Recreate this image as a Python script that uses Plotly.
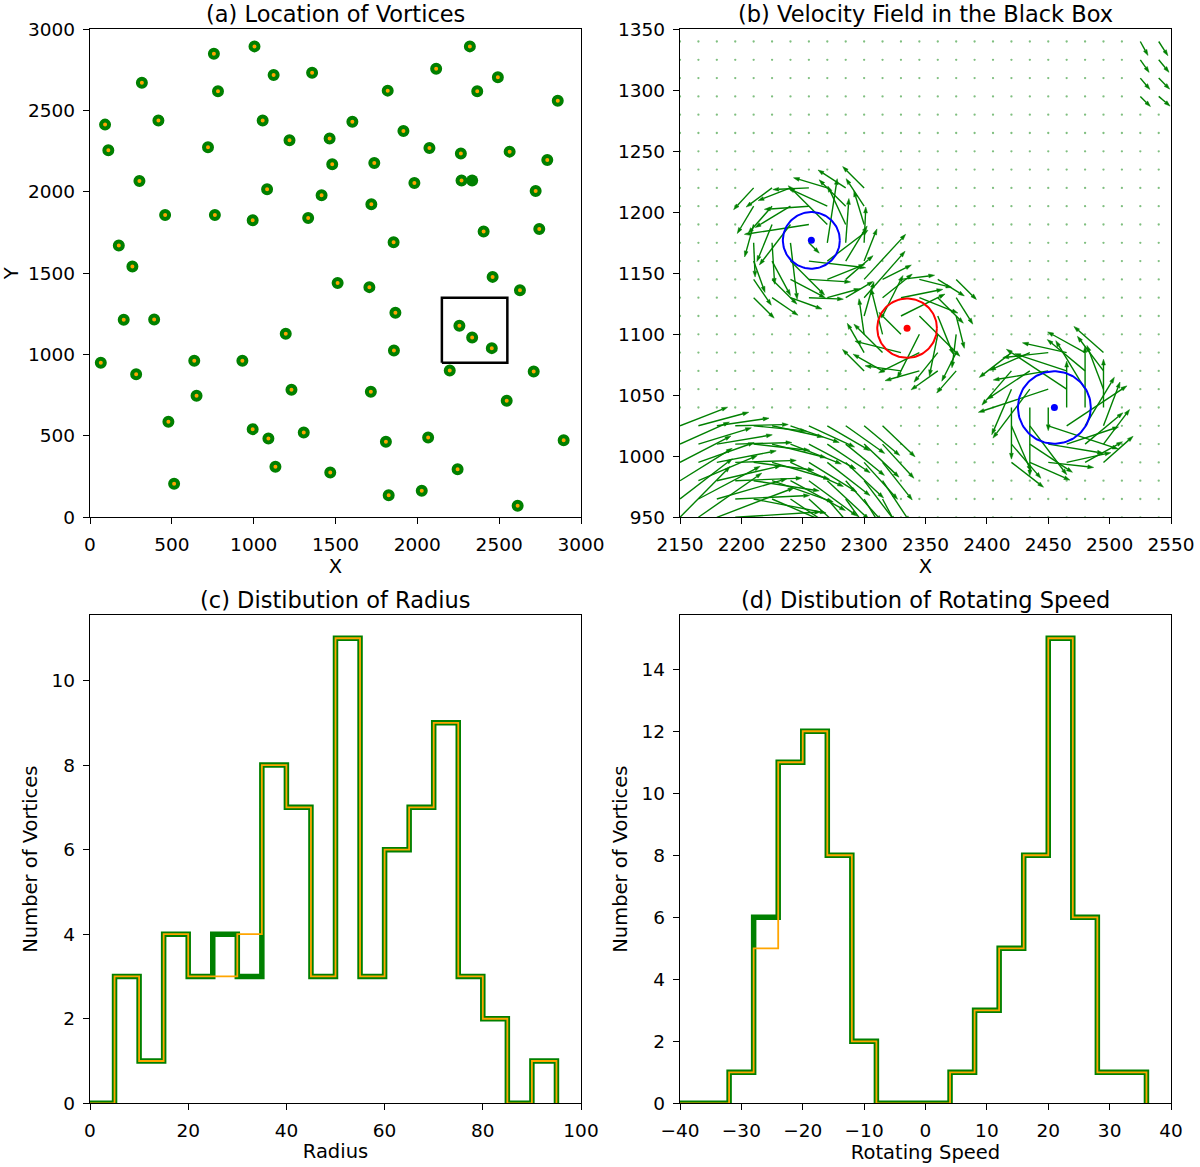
import numpy as np
import plotly.graph_objects as go

# ---- (a) vortex centres ----
vortex_x = [1005, 2321, 757, 317, 1122, 1357, 2115, 2492, 782, 1819, 2366, 2858,
            92, 418, 1055, 1603, 1915, 112, 721, 1219, 1464, 2074, 2266, 2564,
            2794, 1480, 1737, 302, 1082, 1982, 2270, 2723, 1415, 1719, 459, 763,
            994, 1333, 2405, 2745, 176, 1855, 259, 2460, 1513, 1707, 2627, 1866,
            206, 392, 2257, 2335, 1196, 2455, 1857, 66, 637, 931, 2198, 2711,
            282, 651, 1231, 1716, 479, 994, 1090, 1306, 2546, 1808, 2066, 2894,
            514, 1133, 1468, 2246, 1825, 2027, 2613]
vortex_y = [2895, 2895, 2850, 2672, 2719, 2733, 2758, 2705, 2619, 2623, 2619, 2561,
            2414, 2439, 2440, 2432, 2375, 2256, 2275, 2318, 2328, 2270, 2236, 2248,
            2197, 2170, 2178, 2068, 2017, 2055, 2070, 2006, 1980, 1924, 1859, 1859,
            1826, 1840, 1757, 1773, 1671, 1691, 1542, 1478, 1441, 1415, 1396, 1257,
            1214, 1216, 1177, 1105, 1128, 1040, 1026, 950, 962, 962, 903, 897,
            880, 747, 784, 772, 587, 542, 485, 522, 716, 464, 491, 473,
            206, 311, 276, 295, 135, 163, 71]
solid_x = [2335]
solid_y = [2070]
box_x = [2150, 2550]
box_y = [950, 1350]

# ---- (b) vortices that shape the field near the black box ----
field_x = [2198, 2257, 2335, 2455, 2627]
field_y = [903, 1177, 1105, 1040, 1396]
field_radius = [80, 23.2, 24.3, 29.7, 40]
field_speed = [-72, 54, -48, 62, 30]      # + counter-clockwise, - clockwise
field_reach = [128, 50, 45, 45, 110]
grid_step = 15

# ---- (c) radius histogram ----
radius_edges = [0, 5, 10, 15, 20, 25, 30, 35, 40, 45, 50, 55, 60, 65, 70, 75, 80, 85, 90, 95]
radius_green = [0, 3, 1, 4, 3, 4, 3, 8, 7, 3, 11, 3, 6, 7, 9, 3, 2, 0, 1]
radius_orange = [0, 3, 1, 4, 3, 3, 4, 8, 7, 3, 11, 3, 6, 7, 9, 3, 2, 0, 1]

# ---- (d) rotating speed histogram ----
speed_edges = [-40, -36, -32, -28, -24, -20, -16, -12, -8, -4, 0, 4, 8, 12, 16, 20, 24, 28, 32, 36]
speed_green = [0, 0, 1, 6, 11, 12, 8, 2, 0, 0, 0, 1, 3, 5, 8, 15, 6, 1, 1]
speed_orange = [0, 0, 1, 5, 11, 12, 8, 2, 0, 0, 0, 1, 3, 5, 8, 15, 6, 1, 1]

GREEN = "#008000"
ORANGE = "#ffa500"
FONT = "DejaVu Sans"

fig = go.Figure()

# (a) locations
fig.add_trace(go.Scatter(
    x=vortex_x, y=vortex_y, mode="markers",
    marker=dict(size=8, color=ORANGE, line=dict(color=GREEN, width=4)),
    xaxis="x", yaxis="y",
))
fig.add_trace(go.Scatter(
    x=solid_x, y=solid_y, mode="markers",
    marker=dict(size=12, color=GREEN, line=dict(width=0)),
    xaxis="x", yaxis="y",
))
fig.add_trace(go.Scatter(
    x=[box_x[0], box_x[1], box_x[1], box_x[0], box_x[0]],
    y=[box_y[0], box_y[0], box_y[1], box_y[1], box_y[0]],
    mode="lines", line=dict(color="black", width=2.5),
    xaxis="x", yaxis="y",
))

# (b) velocity field on a regular grid
gx = np.arange(box_x[0], box_x[1], grid_step)
gy = np.arange(box_y[0], box_y[1], grid_step)
X, Y = np.meshgrid(gx, gy)
U = np.zeros_like(X, dtype=float)
V = np.zeros_like(X, dtype=float)
for cx, cy, R, s, reach in zip(field_x, field_y, field_radius, field_speed, field_reach):
    dx = X - cx
    dy = Y - cy
    r = np.hypot(dx, dy) + 1e-9
    rc = 0.55 * R
    mag = s * np.where(r < rc, r / rc, np.sqrt(rc / r))
    inside = (np.abs(dx) <= reach) & (np.abs(dy) <= reach)
    U += np.where(inside, -mag * dy / r, 0.0)
    V += np.where(inside, mag * dx / r, 0.0)

xs, ys, hx, hy, dot_x, dot_y = [], [], [], [], [], []
for x0, y0, u, v in zip(X.ravel(), Y.ravel(), U.ravel(), V.ravel()):
    L = np.hypot(u, v)
    if L < 0.5:
        dot_x.append(x0)
        dot_y.append(y0)
        continue
    ex, ey = u / L, v / L
    hl = min(4.8, 0.45 * L)
    hw = 0.65 * hl
    tipx, tipy = x0 + u, y0 + v
    bx, by = tipx - hl * ex, tipy - hl * ey
    xs += [x0, bx, None]
    ys += [y0, by, None]
    hx += [tipx, bx - hw / 2 * ey, bx + hw / 2 * ey, tipx, None]
    hy += [tipy, by + hw / 2 * ex, by - hw / 2 * ex, tipy, None]

fig.add_trace(go.Scatter(
    x=dot_x, y=dot_y, mode="markers",
    marker=dict(size=2.3, color="rgba(0,128,0,0.5)"),
    xaxis="x2", yaxis="y2",
))
fig.add_trace(go.Scatter(
    x=xs, y=ys, mode="lines", line=dict(color=GREEN, width=1.4),
    xaxis="x2", yaxis="y2",
))
fig.add_trace(go.Scatter(
    x=hx, y=hy, mode="lines", fill="toself", fillcolor=GREEN,
    line=dict(color=GREEN, width=0.5),
    xaxis="x2", yaxis="y2",
))

theta = np.linspace(0, 2 * np.pi, 120)
for cx, cy, R, s in zip(field_x, field_y, field_radius, field_speed):
    if not (box_x[0] < cx < box_x[1] and box_y[0] < cy < box_y[1]):
        continue
    col = "#0000ff" if s > 0 else "#ff0000"
    fig.add_trace(go.Scatter(
        x=cx + R * np.cos(theta), y=cy + R * np.sin(theta), mode="lines",
        line=dict(color=col, width=2), xaxis="x2", yaxis="y2",
    ))
    fig.add_trace(go.Scatter(
        x=[cx], y=[cy], mode="markers", marker=dict(size=7, color=col),
        xaxis="x2", yaxis="y2",
    ))


def step_xy(edges, counts):
    # outline of a step histogram: up at first edge, across each bin, down at last edge
    x = [edges[0]] + list(edges[:-1]) + [edges[-1]]
    y = [0] + list(counts) + [0]
    return x, y


for edges, green, orange, xa, ya in [
    (radius_edges, radius_green, radius_orange, "x3", "y3"),
    (speed_edges, speed_green, speed_orange, "x4", "y4"),
]:
    gx_, gy_ = step_xy(edges, green)
    ox_, oy_ = step_xy(edges, orange)
    fig.add_trace(go.Scatter(x=gx_, y=gy_, mode="lines", line=dict(color=GREEN, width=5.5, shape="hv"),
                             xaxis=xa, yaxis=ya))
    fig.add_trace(go.Scatter(x=ox_, y=oy_, mode="lines", line=dict(color=ORANGE, width=1.8, shape="hv"),
                             xaxis=xa, yaxis=ya))

axis_style = dict(
    showline=True, mirror=True, linecolor="black", linewidth=1.3,
    ticks="outside", ticklen=6, tickwidth=1.3, tickcolor="black",
    showgrid=False, zeroline=False, ticklabelstandoff=4, automargin=False,
    tickfont=dict(family=FONT, size=18.5, color="black"),
    title_font=dict(family=FONT, size=19.5, color="black"),
)

W, H = 1200, 1167


def px_x(a, b):
    return [a / W, b / W]


def px_y(top_px, bottom_px):
    return [1 - bottom_px / H, 1 - top_px / H]


left = px_x(90, 581)
right = px_x(680, 1171)
top = px_y(29.3, 517.3)
bottom = px_y(615, 1103.3)

fig.update_layout(
    width=W, height=H,
    margin=dict(l=0, r=0, t=0, b=0),
    paper_bgcolor="white", plot_bgcolor="white",
    showlegend=False,
    font=dict(family=FONT, color="black"),
    xaxis=dict(domain=left, anchor="y", range=[0, 3000], dtick=500,
               title=dict(text="X", standoff=4), **axis_style),
    yaxis=dict(domain=top, anchor="x", range=[0, 3000], dtick=500,
               title=dict(text="Y", standoff=11), **axis_style),
    xaxis2=dict(domain=right, anchor="y2", range=[2150, 2550], dtick=50,
                title=dict(text="X", standoff=4), **axis_style),
    yaxis2=dict(domain=top, anchor="x2", range=[950, 1350], dtick=50, **axis_style),
    xaxis3=dict(domain=left, anchor="y3", range=[0, 100], dtick=20,
                title=dict(text="Radius", standoff=4), **axis_style),
    yaxis3=dict(domain=bottom, anchor="x3", range=[0, 11.55], dtick=2,
                title=dict(text="Number of Vortices", standoff=8), **axis_style),
    xaxis4=dict(domain=right, anchor="y4", range=[-40, 40], dtick=10,
                title=dict(text="Rotating Speed", standoff=4), **axis_style),
    yaxis4=dict(domain=bottom, anchor="x4", range=[0, 15.75], dtick=2,
                title=dict(text="Number of Vortices", standoff=8), **axis_style),
)

titles = [
    ("(a) Location of Vortices", left, top),
    ("(b) Velocity Field in the Black Box", right, top),
    ("(c) Distibution of Radius", left, bottom),
    ("(d) Distibution of Rotating Speed", right, bottom),
]
for text, dx_, dy_ in titles:
    fig.add_annotation(
        text=text, xref="paper", yref="paper",
        x=(dx_[0] + dx_[1]) / 2, y=dy_[1], xanchor="center", yanchor="bottom",
        yshift=0, showarrow=False,
        font=dict(family=FONT, size=22.5, color="black"),
    )

# drop the default page margin so the figure fills the window from its corner
fig.write_html(
    "out.html",
    config={"displayModeBar": False},
    post_script="document.body.style.margin = '0px';",
)
